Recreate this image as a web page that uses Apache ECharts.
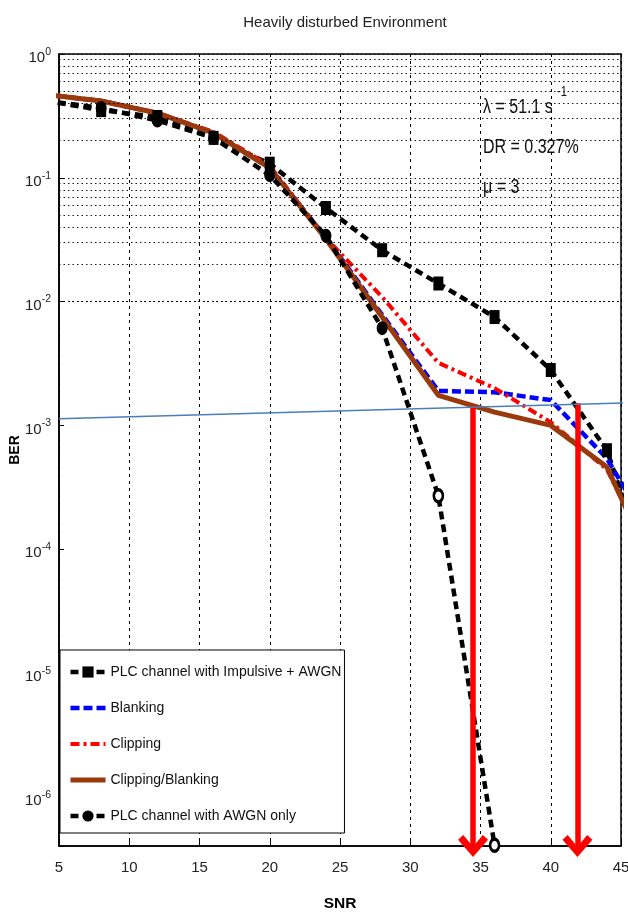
<!DOCTYPE html>
<html><head><meta charset="utf-8">
<script src="https://cdn.jsdelivr.net/npm/echarts@6/dist/echarts.min.js"></script>
<style>html,body{margin:0;padding:0;background:#fff;overflow:hidden}#c{width:628px;height:915px}</style>
</head><body><div id="c"></div>
<script>
// ---- data ----
const snr = [4, 8, 12, 16, 20, 24, 28, 32, 36, 40, 44, 48];
const berImpulsive = [0.42, 0.352, 0.31, 0.21, 0.13, 0.057, 0.026, 0.014, 0.0075, 0.0028, 0.00063, 0.000027];
const berBlanking  = [0.47, 0.417, 0.333, 0.23, 0.12, 0.033, 0.0078, 0.0019, 0.00185, 0.0016, 0.00054, 0.000093];
const berClipping  = [0.47, 0.42, 0.335, 0.235, 0.125, 0.0326, 0.0109, 0.0032, 0.0020, 0.00106, 0.00044, 0.000054];
const berClipBlank = [0.47, 0.417, 0.333, 0.23, 0.12, 0.032, 0.0075, 0.00175, 0.00128, 0.0010, 0.00046, 0.000048];
const snrAwgn = [4, 8, 12, 16, 20, 24, 28, 32, 36];
const berAwgn = [0.42, 0.366, 0.29, 0.21, 0.105, 0.034, 0.0061, 0.00027, 4.05e-7];

const seriesNames = ['PLC channel with Impulsive + AWGN', 'Blanking', 'Clipping', 'Clipping/Blanking', 'PLC channel with AWGN only'];
const xMin = 5, xMax = 45, xStep = 5;
const yMin = 4e-7, yMax = 1;

// annotation: threshold line and the two arrows
const thresholdSNR = [5, 45.5];
const thresholdBER = [1.13e-3, 1.52e-3];
const arrowSNR = [34.47, 41.9];
const arrowTopBER = [1.45e-3, 1.51e-3];
const arrowEndBER = 4e-7;

const textLambda = 'λ = 51.1 s';
const textLambdaExp = '-1';
const textDR = 'DR = 0.327%';
const textMu = 'μ = 3';
const titleText = 'Heavily disturbed Environment';

// ---- font selection (narrow font if installed, else scaled-down Liberation Sans) ----
const mctx = document.createElement('canvas').getContext('2d');
function fontAvailable(name) {
  const t = 'PLC channel with Impulsive + AWGN 0123456789';
  mctx.font = '20px monospace'; const a = mctx.measureText(t).width;
  mctx.font = "20px '" + name + "', monospace"; const b = mctx.measureText(t).width;
  return Math.abs(a - b) > 0.5;
}
const narrow = ['Liberation Sans Narrow', 'Arial Narrow'].find(fontAvailable);
const FONT = narrow ? "'" + narrow + "', 'Liberation Sans', Arial, sans-serif" : "'Liberation Sans', Arial, sans-serif";
const K = narrow ? 1 : 0.82;
const fs = s => Math.round(s * K * 2) / 2;
const WIDE = "'Liberation Sans', Arial, sans-serif";

// ---- grid line values (1..9 x 10^k) ----
const hGrid = [];
for (let k = -7; k <= 0; k++) {
  for (let m = 1; m <= 9; m++) {
    const v = m * Math.pow(10, k);
    if (v >= yMin * 1.001 && v <= yMax * 1.0001) hGrid.push(v);
  }
}

const pair = (xs, ys) => xs.map((x, i) => [x, ys[i]]);
const ring = {color: '#fff', borderColor: '#000', borderWidth: 3};
const awgnData = snrAwgn.map((x, i) => (x >= 32 ? {value: [x, berAwgn[i]], symbolSize: [9, 12], itemStyle: ring} : [x, berAwgn[i]]));

const chevron = 'path://M10,0 L20,11 L16.5,14 L10,6.5 L3.5,14 L0,11 Z';
const annot = (x, y, text, size) => ({type: 'text', x: x, y: y, scaleX: 0.8, z: 50,
  style: {text: text, fontFamily: WIDE, fontSize: size, fill: '#111', verticalAlign: 'top', align: 'left'}});

// legend entries: lines without a symbol get an invisible legend symbol
const legendData = seriesNames.map((n, i) => (i === 0 || i === 4 ? {name: n} : {name: n, itemStyle: {opacity: 0}}));

const chart = echarts.init(document.getElementById('c'), null, {renderer: 'canvas'});
chart.setOption({
  animation: false,
  backgroundColor: '#fff',
  title: {
    text: titleText, left: 340, top: 10, textAlign: 'center',
    textStyle: {fontFamily: FONT, fontSize: fs(18), fontWeight: 'normal', color: '#222'}
  },
  grid: {left: 59, top: 54, right: 7, bottom: 69, show: true, borderColor: '#000', borderWidth: 1.5,
         containLabel: false, outerBoundsMode: 'none'},
  legend: {
    orient: 'vertical', left: 60, top: 650, itemWidth: 35, itemHeight: 14, itemGap: 18,
    padding: [13, 3, 8, 8], backgroundColor: '#fff', borderColor: '#000', borderWidth: 1,
    textStyle: {fontFamily: FONT, fontSize: fs(17), color: '#111', lineHeight: 18},
    lineStyle: {width: 'inherit'},
    data: legendData
  },
  xAxis: {
    type: 'value', min: xMin, max: xMax, interval: xStep,
    name: 'SNR', nameLocation: 'middle', nameGap: 50, nameMoveOverlap: false,
    nameTextStyle: {fontFamily: FONT, fontWeight: 'bold', fontSize: fs(19), color: '#000'},
    axisLine: {show: true, lineStyle: {color: '#000', width: 1.5}},
    axisTick: {show: true, inside: true, length: 5, lineStyle: {color: '#000'}},
    axisLabel: {fontFamily: FONT, fontSize: fs(18.5), color: '#222', margin: 14},
    splitLine: {show: true, lineStyle: {color: '#000', type: [3, 4], width: 1}}
  },
  yAxis: {
    type: 'log', logBase: 10, min: yMin, max: yMax, splitNumber: 7,
    name: 'BER', nameLocation: 'middle', nameGap: 37, nameMoveOverlap: false,
    nameTextStyle: {fontFamily: FONT, fontWeight: 'bold', fontSize: fs(17), color: '#000'},
    axisLine: {show: true, lineStyle: {color: '#000', width: 1.5}},
    axisTick: {show: true, inside: true, length: 5, lineStyle: {color: '#000'}},
    splitLine: {show: false},
    axisLabel: {
      margin: 8,
      formatter: function (v) {
        const l = Math.log10(v), e = Math.round(l);
        if (Math.abs(l - e) > 0.01) return '';
        return '{b|10}{s|' + e + '}';
      },
      rich: {
        b: {fontFamily: FONT, fontSize: fs(18.5), color: '#222', lineHeight: 15, padding: [8, 0, 0, 0]},
        s: {fontFamily: FONT, fontSize: fs(13), color: '#222', lineHeight: 11, verticalAlign: 'top'}
      }
    }
  },
  graphic: [
    annot(483, 97, textLambda, 20),
    annot(557, 85, textLambdaExp, 14),
    annot(483, 137, textDR, 20),
    annot(483, 177, textMu, 20)
  ],
  series: [
    {
      name: '__grid', type: 'line', data: [], silent: true, z: 1,
      markLine: {
        silent: true, symbol: 'none', label: {show: false}, animation: false,
        lineStyle: {color: '#000', type: [1.5, 3], width: 1, opacity: 0.9},
        data: hGrid.map(v => ({yAxis: v}))
      }
    },
    {
      name: seriesNames[0], type: 'line', data: pair(snr, berImpulsive), clip: true,
      symbol: 'rect', symbolSize: [10, 14], itemStyle: {color: '#000'},
      lineStyle: {color: '#000', width: 4.5, type: [8, 5]}
    },
    {
      name: seriesNames[1], type: 'line', data: pair(snr, berBlanking), clip: true, symbol: 'none',
      itemStyle: {color: '#0000ff'}, lineStyle: {color: '#0000ff', width: 4.5, type: [9, 4]}
    },
    {
      name: seriesNames[2], type: 'line', data: pair(snr, berClipping), clip: true, symbol: 'none',
      itemStyle: {color: '#ff0000'}, lineStyle: {color: '#ff0000', width: 4, type: [9, 4, 3, 4]}
    },
    {
      name: seriesNames[3], type: 'line', data: pair(snr, berClipBlank), clip: true, symbol: 'none',
      itemStyle: {color: '#9a3a0b'}, lineStyle: {color: '#9a3a0b', width: 5}
    },
    {
      name: seriesNames[4], type: 'line', data: awgnData, clip: true,
      symbol: 'circle', symbolSize: [11, 14], itemStyle: {color: '#000'},
      lineStyle: {color: '#000', width: 4.5, type: [8, 5]}
    },
    {
      name: '__threshold', type: 'line', data: pair(thresholdSNR, thresholdBER), clip: false, silent: true,
      symbol: 'none', z: 10, lineStyle: {color: '#4a7ebb', width: 1.6}
    },
    {
      name: '__arrows', type: 'line', data: [], silent: true, z: 11,
      markLine: {
        silent: true, animation: false, label: {show: false},
        lineStyle: {color: '#ff0000', width: 5.5, type: 'solid'},
        data: arrowSNR.map((x, i) => [
          {coord: [x, arrowTopBER[i]], symbol: 'none'},
          {coord: [x, arrowEndBER], symbol: chevron, symbolSize: [30, 22]}
        ])
      }
    }
  ]
});
</script>
</body></html>
